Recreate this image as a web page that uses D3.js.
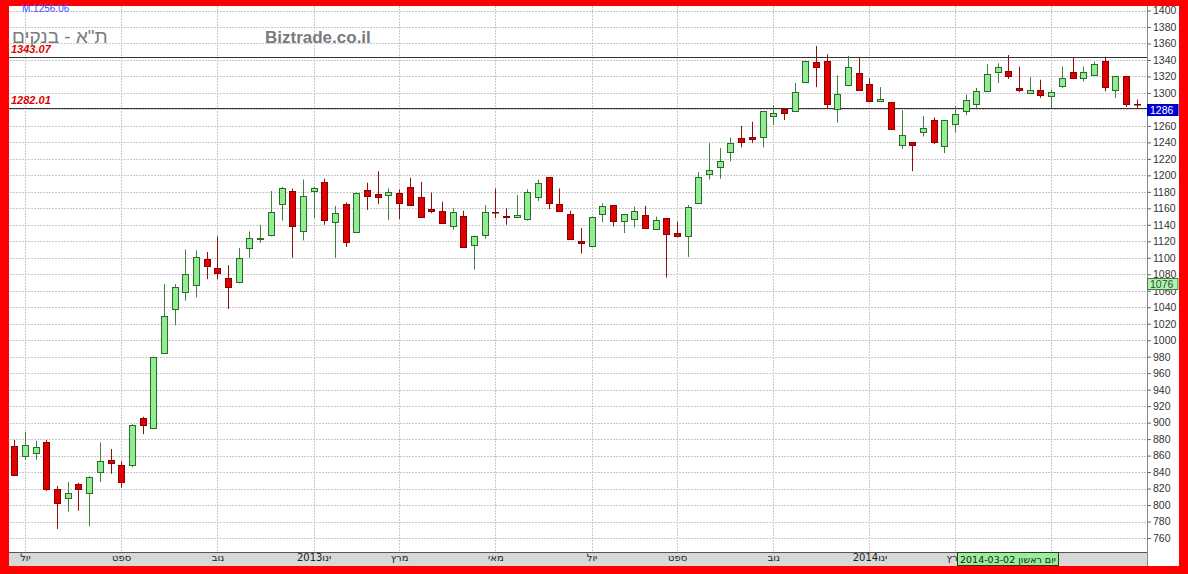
<!DOCTYPE html>
<html><head><meta charset="utf-8">
<script src="https://cdn.jsdelivr.net/npm/d3@7"></script>
<style>html,body{margin:0;padding:0;background:#f00;}svg{display:block;}</style>
</head><body>
<svg id="c" width="1188" height="574"></svg>
<script>
// ---- data ----
const weekStart = "2012-06-24"; // first weekly candle (Sunday)
const opens  = [872,860,863,877,819,809,826,815,840,855,848,849,905,894,985,1038,1059,1067,1099,1087,1076,1070,1112,1123,1128,1165,1181,1133,1181,1192,1144,1165,1131,1182,1177,1176,1179,1186,1174,1159,1157,1139,1151,1116,1128,1156,1150.5,1150,1147,1174,1198,1165,1153,1120,1114,1153,1164,1145,1147,1152,1135,1148,1130,1126,1167,1202,1210,1228,1245,1247,1247,1272,1280,1278,1313,1338,1339,1280,1310,1324,1311,1290,1289,1237,1240,1253,1267,1236,1262,1278,1286,1302,1325,1326,1306,1300,1304,1296,1308,1325,1318,1322,1339,1303,1320,1287];
const highs  = [879,889,878,879,823,828,827,835,876,868,853,898,907,980,1068,1068,1110,1109,1107,1126,1091,1112,1132,1140,1181,1186,1184,1195,1186,1196,1163,1167,1179,1191,1205,1184,1183,1197,1192,1179,1168,1160,1157,1127,1164,1184,1160,1176,1183,1195,1198,1184,1157,1136,1150,1166,1164,1153,1162,1163,1150,1148,1144,1164,1204,1239,1233,1246,1260,1265,1278,1285,1281,1312,1339,1357,1347,1321,1345,1343,1318,1307,1289,1279,1240,1272,1270,1267,1284,1298,1306,1335,1336,1346,1332,1319,1316,1304,1332,1343,1332,1338,1344,1320,1320,1292];
const lows   = [835,855,855,817,771,792,793,774,828,838,821,846,886,894,984,1018,1048,1052,1074,1074,1038,1069,1100,1118,1126,1145,1100,1121,1148,1140,1100,1113,1131,1158,1165,1146,1147,1164,1149,1154,1142,1134,1112,1086,1123,1148,1140,1148,1145,1169,1159,1156,1122,1105,1114,1143,1138,1130,1137,1136,1134,1076,1125,1101,1167,1195,1196,1217,1234,1239,1234,1261,1267,1278,1312,1307,1281,1264,1308,1304,1289,1289,1256,1232,1205,1247,1238,1227,1252,1273,1282,1301,1312,1317,1301,1299,1294,1281,1306,1317,1314,1321,1302,1294,1283,1281];
const closes = [836,873,871,819,802,815,819,834,854,851,828,897,897,980,1029,1064,1080,1101,1090,1082,1065,1100,1124,1124.5,1155,1185,1139,1175,1185,1146,1154,1119,1179,1175,1174,1180,1167,1164,1149,1157,1142,1156,1113,1126,1155,1155,1150,1152,1180,1191,1167,1157,1123,1118,1150,1163,1145,1153,1157,1136,1146,1129,1126,1162,1198,1207,1217,1239,1240,1244,1278,1276,1276,1301,1339,1331,1286,1299,1331,1304,1290,1293,1256,1249,1237,1258,1240,1267,1275,1291,1302,1323,1331,1320,1304,1304,1298,1301,1318,1318,1325,1335,1307,1320,1287,1286];
const monthTickDates = ["2012-07-01","2012-09-02","2012-11-04","2013-01-06","2013-03-03","2013-05-05","2013-07-07","2013-09-01","2013-11-03","2014-01-05","2014-03-02","2014-05-04"];
const monthTickLabels = ["יול","ספט","נוב","2013ינו","מרץ","מאי","יול","ספט","נוב","2014ינו","מרץ","מאי"];
const yTicks = [760,780,800,820,840,860,880,900,920,940,960,980,1000,1020,1040,1060,1080,1100,1120,1140,1160,1180,1200,1220,1240,1260,1280,1300,1320,1340,1360,1380,1400];
const levelLines = [1343.07, 1282.01];
const lastValue = 1286, markValue = 1076;
const cursorLabel = "2014-03-02 יום ראשון";
const titleText = 'ת"א - בנקים', brandText = "Biztrade.co.il", topInfo = "M.1256.06";

// ---- build ----
const parse = d3.timeParse("%Y-%m-%d");
const fmt = d3.timeFormat("%Y-%m-%d");
const start = parse(weekStart);
const dates = d3.range(opens.length).map(i => fmt(d3.timeWeek.offset(start, i)));
const candles = dates.map((d,i)=>({d, o:opens[i], h:highs[i], l:lows[i], c:closes[i]}));

const svg = d3.select("#c");
const L = 9, T = 6, R = 1179, B = 566;
const plotR = 1147, axisY = 552;

svg.append("rect").attr("width",1188).attr("height",574).attr("fill","#ff0000");
svg.append("rect").attr("x",L).attr("y",T).attr("width",R-L).attr("height",B-T).attr("fill","#fff");

const x = d3.scalePoint().domain(dates).range([14.3, 1136.7]);
const y = d3.scaleLinear().domain([760,1400]).range([538,10.5]);

const g = svg.append("g");
// horizontal grid
g.selectAll(".hg").data(yTicks).join("line")
  .attr("x1",L+1).attr("x2",plotR).attr("y1",d=>Math.round(y(d))+0.5).attr("y2",d=>Math.round(y(d))+0.5)
  .attr("stroke","#c8c8c8").attr("stroke-dasharray","2,1");
// vertical grid
g.selectAll(".vg").data(monthTickDates).join("line")
  .attr("x1",d=>Math.round(x(d))+0.5).attr("x2",d=>Math.round(x(d))+0.5).attr("y1",T).attr("y2",axisY)
  .attr("stroke","#c8c8c8").attr("stroke-dasharray","2,1");

// level lines
g.selectAll(".lv").data(levelLines).join("line")
  .attr("x1",L).attr("x2",plotR).attr("y1",d=>Math.round(y(d))+0.5).attr("y2",d=>Math.round(y(d))+0.5)
  .attr("stroke","#333").attr("stroke-width",1);
g.selectAll(".lvt").data(levelLines).join("text")
  .attr("x",11).attr("y",d=>Math.round(y(d))-4)
  .attr("fill","#e00000").attr("font-family","Liberation Sans, Arial, sans-serif")
  .attr("font-size",11).attr("font-weight","bold").attr("font-style","italic")
  .text(d=>d.toFixed(2));

// titles
svg.append("text").attr("x",22).attr("y",12).attr("fill","#4b4bff")
  .attr("font-family","Liberation Sans, Arial, sans-serif").attr("font-size",10).text(topInfo);
svg.append("text").attr("x",12).attr("y",43).attr("fill","#7a7a7a")
  .attr("font-family","Liberation Sans, Arial, sans-serif").attr("font-size",19).text(titleText);
svg.append("text").attr("x",265).attr("y",43).attr("fill","#7a7a7a")
  .attr("font-family","Liberation Sans, Arial, sans-serif").attr("font-size",17).attr("font-weight","bold").text(brandText);

// candles
const cg = svg.append("g");
const cs = cg.selectAll("g.cd").data(candles).join("g");
cs.append("line")
  .attr("x1",d=>Math.round(x(d.d))+0.5).attr("x2",d=>Math.round(x(d.d))+0.5)
  .attr("y1",d=>y(d.h)).attr("y2",d=>y(d.l))
  .attr("stroke",d=>d.c>=d.o?"#3f7f3f":"#8a1010").attr("stroke-width",1);
cs.append("rect")
  .attr("x",d=>Math.round(x(d.d))-3+0.5).attr("width",6)
  .attr("y",d=>Math.round(y(Math.max(d.o,d.c)))+0.5)
  .attr("height",d=>Math.max(0.5, Math.round(y(Math.min(d.o,d.c))) - Math.round(y(Math.max(d.o,d.c)))))
  .attr("fill",d=>d.c>=d.o?"#90ee90":"#e00000")
  .attr("stroke",d=>d.c>=d.o?"#2d6a2d":"#8a0000").attr("stroke-width",1);

// bottom axis band
svg.append("rect").attr("x",L).attr("y",axisY).attr("width",plotR-L).attr("height",B-axisY).attr("fill","#d8d8d8");
svg.append("line").attr("x1",L).attr("x2",plotR).attr("y1",axisY+0.5).attr("y2",axisY+0.5).attr("stroke","#555");
const xa = svg.append("g").attr("transform",`translate(0,${axisY})`)
  .call(d3.axisBottom(x).tickValues(monthTickDates).tickSize(0).tickPadding(2)
        .tickFormat((d,i)=>monthTickLabels[i]));
xa.select(".domain").remove();
xa.selectAll("text").attr("font-family","DejaVu Sans, sans-serif").attr("font-size",10).attr("fill","#222");

// right axis
svg.append("line").attr("x1",plotR+0.5).attr("x2",plotR+0.5).attr("y1",T).attr("y2",B).attr("stroke","#8a8a8a");
const ya = svg.append("g").attr("transform",`translate(${plotR},0)`)
  .call(d3.axisRight(y).tickValues(yTicks).tickSize(4).tickPadding(2).tickFormat(d3.format("d")));
ya.select(".domain").remove();
ya.selectAll("line").attr("stroke","#666");
ya.selectAll("text").attr("font-family","Liberation Sans, Arial, sans-serif").attr("font-size",10.5).attr("fill","#333");

// value markers on axis
const mk = [{v:markValue, fill:"#b4f0b4", stroke:"#3f7f3f", tc:"#225522"},{v:lastValue, fill:"#0000dd", stroke:"#0000aa", tc:"#fff"}];
mk.forEach(m=>{
  const yy = Math.round(y(m.v));
  svg.append("rect").attr("x",plotR+0.5).attr("y",yy+0.5).attr("width",R-plotR-1.5).attr("height",11)
    .attr("fill",m.fill).attr("stroke",m.stroke);
  svg.append("text").attr("x",plotR+3).attr("y",yy+10).attr("fill",m.tc)
    .attr("font-family","Liberation Sans, Arial, sans-serif").attr("font-size",10.5).text(m.v);
});

// cursor date label
const cx = Math.round(x("2014-03-02"))+2;
svg.append("rect").attr("x",cx+0.5).attr("y",axisY+0.5).attr("width",101).attr("height",13)
  .attr("fill","#99ee99").attr("stroke","#333");
svg.append("text").attr("x",cx+3).attr("y",axisY+11).attr("fill","#222")
  .attr("font-family","DejaVu Sans, sans-serif").attr("font-size",9.5).text(cursorLabel);
</script>
</body></html>
